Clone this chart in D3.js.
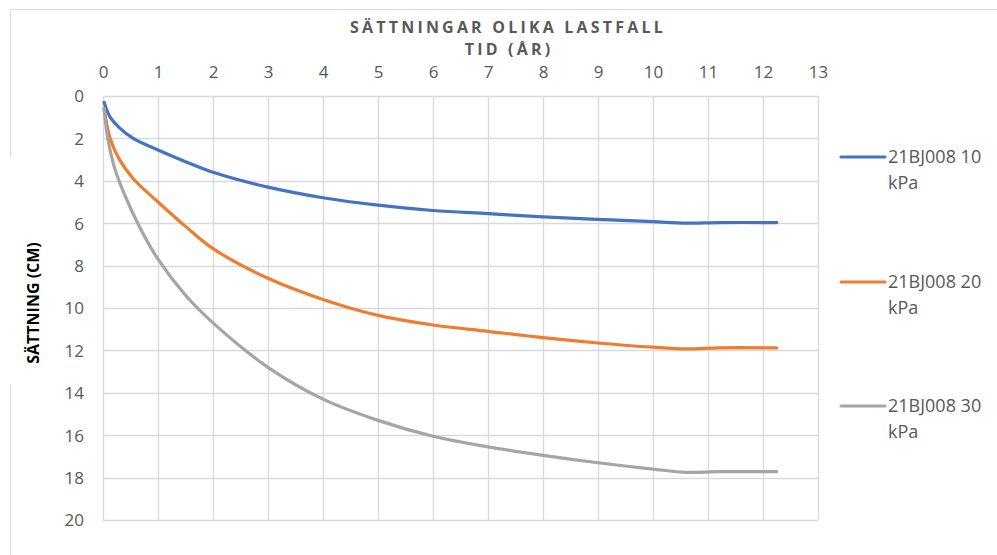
<!DOCTYPE html>
<html><head><meta charset="utf-8">
<script src="https://cdn.jsdelivr.net/npm/d3@7"></script>
<style>body{margin:0;background:#fff;} svg{display:block;}</style>
</head><body><svg id="c" width="997" height="555"></svg>
<script>
const chartTitle = "SÄTTNINGAR OLIKA LASTFALL";
const xTitle = "TID (ÅR)";
const yTitle = "SÄTTNING (CM)";
const xTicks = [0,1,2,3,4,5,6,7,8,9,10,11,12,13];
const yTicks = [0,2,4,6,8,10,12,14,16,18,20];
const seriesNames = ["21BJ008 10 kPa","21BJ008 20 kPa","21BJ008 30 kPa"];
const seriesColors = ["#4472C4","#ED7D31","#A5A5A5"];
const t10 = [0.02,0.13,0.3,0.55,1,1.5,2,3,4,5,6,7,8,9,10,10.6,11.2,12.25];
const s10 = [0.3,1.0,1.5,2.0,2.55,3.1,3.6,4.3,4.8,5.15,5.4,5.55,5.7,5.82,5.93,6.0,5.97,5.97];
const t20 = [0.02,0.13,0.3,0.55,1,1.5,2,3,4,5,6,7,8,9,10,10.6,11.2,12.25];
const s20 = [0.6,2.0,3.0,3.9,5.0,6.15,7.2,8.6,9.6,10.35,10.8,11.1,11.4,11.65,11.85,11.93,11.88,11.88];
const t30 = [0.02,0.08,0.2,0.4,0.67,1,1.5,2,3,4,5,6,7,8,9,10,10.6,11.2,12.25];
const s30 = [0.6,1.9,3.3,4.7,6.2,7.7,9.4,10.7,12.8,14.3,15.3,16.05,16.55,16.95,17.3,17.6,17.75,17.72,17.72];

const svg = d3.select("#c");
const font = "'Open Sans', 'Liberation Sans', sans-serif";
const x = d3.scaleLinear().domain([0,13]).range([103,818]);
const y = d3.scaleLinear().domain([0,20]).range([96,520]);

// outer chart border (partially visible)
svg.append("line").attr("x1",10.5).attr("x2",997).attr("y1",9.5).attr("y2",9.5).attr("stroke","#d9d9d9");
svg.append("line").attr("x1",10.5).attr("x2",10.5).attr("y1",9.5).attr("y2",157).attr("stroke","#d9d9d9");
svg.append("line").attr("x1",10.5).attr("x2",10.5).attr("y1",385).attr("y2",555).attr("stroke","#d9d9d9");

// grid
const g = svg.append("g");
g.selectAll(".vg").data(xTicks).join("line")
  .attr("x1",d=>Math.round(x(d))+0.5).attr("x2",d=>Math.round(x(d))+0.5)
  .attr("y1",y(0)).attr("y2",y(20)).attr("stroke","#d9d9d9").attr("stroke-width",1.3);
g.selectAll(".hg").data(yTicks).join("line")
  .attr("y1",d=>Math.round(y(d))+0.5).attr("y2",d=>Math.round(y(d))+0.5)
  .attr("x1",x(0)).attr("x2",x(13)).attr("stroke","#d9d9d9").attr("stroke-width",1.3);

// axes via d3
const xAxis = svg.append("g").attr("transform",`translate(0,${y(0)})`)
  .call(d3.axisTop(x).tickValues(xTicks).tickSize(0).tickPadding(18));
const yAxis = svg.append("g").attr("transform",`translate(${x(0)},0)`)
  .call(d3.axisLeft(y).tickValues(yTicks).tickSize(0).tickPadding(19));
[xAxis,yAxis].forEach(a=>{
  a.select(".domain").remove();
  a.selectAll("text").attr("fill","#595959").style("font-family",font).style("font-size","17px");
});
yAxis.selectAll("text").attr("dy","0.35em");

// titles
svg.append("text").attr("x",508).attr("y",33).attr("text-anchor","middle")
  .style("font-family",font).style("font-size","16px").style("font-weight","bold")
  .style("letter-spacing","3.2px").attr("fill","#595959").text(chartTitle);
svg.append("text").attr("x",509).attr("y",55).attr("text-anchor","middle")
  .style("font-family",font).style("font-size","16px").style("font-weight","bold")
  .style("letter-spacing","3.2px").attr("fill","#595959").text(xTitle);
svg.append("text").attr("transform","translate(39,303) rotate(-90)").attr("text-anchor","middle")
  .style("font-family",font).style("font-size","16px").style("font-weight","bold")
  .attr("fill","#000").text(yTitle);

// lines
const series = [[t10,s10],[t20,s20],[t30,s30]];
const line = d3.line().x(d=>x(d[0])).y(d=>y(d[1])).curve(d3.curveCatmullRom.alpha(0.5));
series.forEach((s,i)=>{
  const pts = s[0].map((t,j)=>[t,s[1][j]]);
  svg.append("path").datum(pts).attr("d",line).attr("fill","none")
    .attr("stroke",seriesColors[i]).attr("stroke-width",3.2).attr("stroke-linecap","round");
});

// legend
const ly = [157,282,406];
seriesNames.forEach((n,i)=>{
  svg.append("line").attr("x1",841).attr("x2",885).attr("y1",ly[i]).attr("y2",ly[i])
    .attr("stroke",seriesColors[i]).attr("stroke-width",3.2).attr("stroke-linecap","round");
  const parts = n.split(" ");
  const t = svg.append("text").style("font-family",font).style("font-size","18px").attr("fill","#595959");
  t.append("tspan").attr("x",888).attr("y",ly[i]+6).text(parts[0]+" "+parts[1]);
  t.append("tspan").attr("x",888).attr("y",ly[i]+32).text(parts[2]);
});
</script></body></html>
